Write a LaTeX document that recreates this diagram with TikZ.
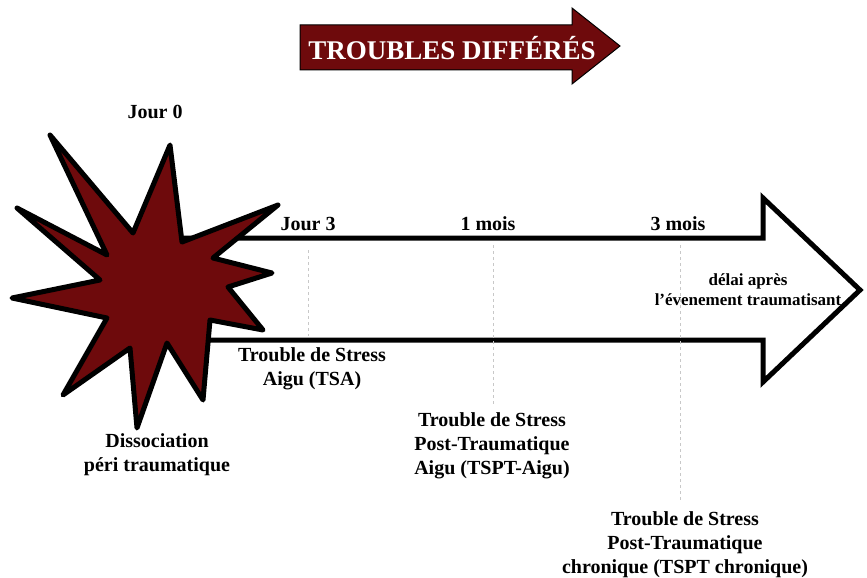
\documentclass[tikz,border=0pt]{standalone}
\usepackage{fontspec}
\setmainfont{Liberation Serif}
\usetikzlibrary{positioning}
\definecolor{darkred}{RGB}{110,10,12}
\definecolor{dashgray}{RGB}{200,200,200}

\begin{document}
\begin{tikzpicture}[x=1pt, y=-1pt,
    label/.style={font=\bfseries\fontsize{20}{24}\selectfont, align=center, inner sep=0},
    tick/.style={dashgray, dashed, line width=0.8pt}]
    \useasboundingbox (0,0) rectangle (867,578);

    % top arrow
    \draw[fill=darkred, line width=1pt] (300,25) -- (572,25) -- (572,8) -- (620,46)
        -- (572,84) -- (572,70) -- (300,70) -- cycle;
    \node[font=\bfseries\fontsize{27}{27}\selectfont, text=white, inner sep=0] (title)
        at (452,48) {TROUBLES DIFFÉRÉS};

    % main arrow
    \draw[fill=white, line width=5pt] (150,238) -- (763,238) -- (763,198) -- (860,290)
        -- (763,382) -- (763,340) -- (150,340);

    % dashed ticks
    \coordinate (t3a) at (308,250); \coordinate (t3b) at (308,336);
    \coordinate (m1a) at (493,245); \coordinate (m1b) at (493,405);
    \coordinate (m3a) at (680,245); \coordinate (m3b) at (680,500);
    \draw[tick] (t3a) -- (t3b);
    \draw[tick] (m1a) -- (m1b);
    \draw[tick] (m3a) -- (m3b);

    % star
    \draw[fill=darkred, line width=5pt, line join=round] (50,135) -- (133,233) -- (170,145)
        -- (182,242) -- (278,205) -- (213,258) -- (272,273) -- (228,287) -- (263,330)
        -- (210,320) -- (203,400) -- (167,343) -- (137,428) -- (130,348) -- (63,395)
        -- (107,318) -- (12,298) -- (100,280) -- (17,208) -- (107,255) -- cycle;

    \begin{scope}[every node/.style={label}]
        \node (j0) at (155,112) {Jour 0};
        \node (j3) at (308,224) {Jour 3};
        \node (m1) at (488,224) {1 mois};
        \node (m3) at (678,224) {3 mois};
        \node[font=\bfseries\fontsize{17}{20}\selectfont] (delai) at (748,290)
            {délai après\\l’évenement traumatisant};
        \node (tsa) at (312,369) {Trouble de Stress\\Aigu (TSA)};
        \node (tspta) at (492,446) {Trouble de Stress\\Post-Traumatique\\Aigu (TSPT-Aigu)};
        \node (tsptc) at (685,545) {Trouble de Stress\\Post-Traumatique\\chronique (TSPT chronique)};
        \node (dissoc) at (157,455) {Dissociation\\péri traumatique};
    \end{scope}
\end{tikzpicture}
\end{document}
